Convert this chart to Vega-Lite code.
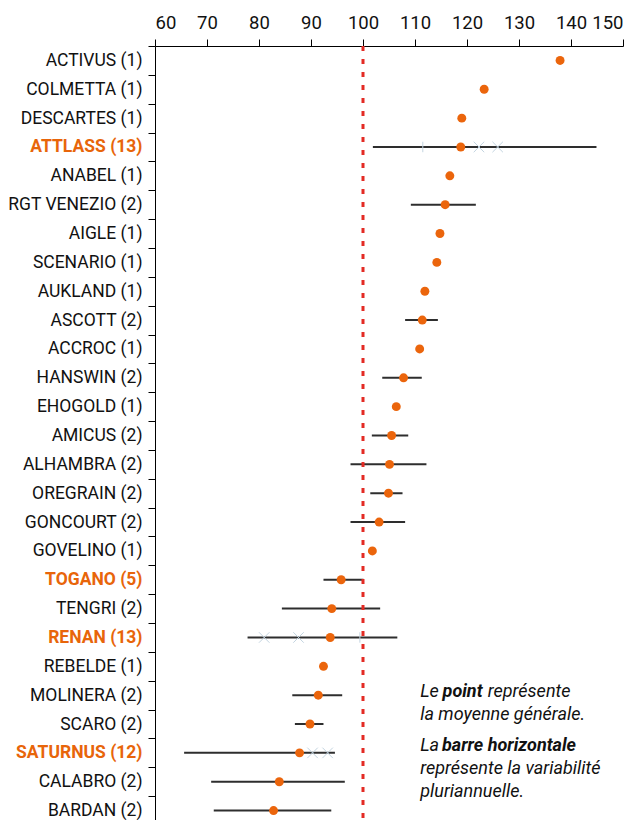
{
  "$schema": "https://vega.github.io/schema/vega-lite/v6.json",
  "width": 468,
  "height": 779,
  "autosize": {"type": "none"},
  "padding": {"left": 155, "top": 46, "right": 15, "bottom": 0},
  "background": "white",
  "config": {"view": {"stroke": null}, "font": "Roboto"},
  "datasets": {
    "varieties": [
      {"variety": "ACTIVUS (1)", "mean": 137.9, "lo": null, "hi": null},
      {"variety": "COLMETTA (1)", "mean": 123.3, "lo": null, "hi": null},
      {"variety": "DESCARTES (1)", "mean": 119.0, "lo": null, "hi": null},
      {"variety": "ATTLASS (13)", "mean": 118.8, "lo": 101.9, "hi": 144.9},
      {"variety": "ANABEL (1)", "mean": 116.7, "lo": null, "hi": null},
      {"variety": "RGT VENEZIO (2)", "mean": 115.8, "lo": 109.2, "hi": 121.7},
      {"variety": "AIGLE (1)", "mean": 114.8, "lo": null, "hi": null},
      {"variety": "SCENARIO (1)", "mean": 114.2, "lo": null, "hi": null},
      {"variety": "AUKLAND (1)", "mean": 111.9, "lo": null, "hi": null},
      {"variety": "ASCOTT (2)", "mean": 111.4, "lo": 108.1, "hi": 114.4},
      {"variety": "ACCROC (1)", "mean": 110.9, "lo": null, "hi": null},
      {"variety": "HANSWIN (2)", "mean": 107.8, "lo": 103.7, "hi": 111.3},
      {"variety": "EHOGOLD (1)", "mean": 106.4, "lo": null, "hi": null},
      {"variety": "AMICUS (2)", "mean": 105.5, "lo": 101.7, "hi": 108.7},
      {"variety": "ALHAMBRA (2)", "mean": 105.1, "lo": 97.6, "hi": 112.2},
      {"variety": "OREGRAIN (2)", "mean": 104.9, "lo": 101.4, "hi": 107.6},
      {"variety": "GONCOURT (2)", "mean": 103.1, "lo": 97.6, "hi": 108.1},
      {"variety": "GOVELINO (1)", "mean": 101.8, "lo": null, "hi": null},
      {"variety": "TOGANO (5)", "mean": 95.8, "lo": 92.4, "hi": 100.1},
      {"variety": "TENGRI (2)", "mean": 94.0, "lo": 84.4, "hi": 103.3},
      {"variety": "RENAN (13)", "mean": 93.7, "lo": 77.8, "hi": 106.6},
      {"variety": "REBELDE (1)", "mean": 92.4, "lo": null, "hi": null},
      {"variety": "MOLINERA (2)", "mean": 91.4, "lo": 86.4, "hi": 96.0},
      {"variety": "SCARO (2)", "mean": 89.8, "lo": 86.9, "hi": 92.4},
      {"variety": "SATURNUS (12)", "mean": 87.8, "lo": 65.6, "hi": 94.6},
      {"variety": "CALABRO (2)", "mean": 83.9, "lo": 70.8, "hi": 96.5},
      {"variety": "BARDAN (2)", "mean": 82.8, "lo": 71.3, "hi": 93.9}
    ],
    "markers": [
      {"variety": "ATTLASS (13)", "value": 111.5, "kind": "plus"},
      {"variety": "ATTLASS (13)", "value": 122.3, "kind": "x"},
      {"variety": "ATTLASS (13)", "value": 125.9, "kind": "x"},
      {"variety": "RENAN (13)", "value": 81.0, "kind": "x"},
      {"variety": "RENAN (13)", "value": 87.6, "kind": "x"},
      {"variety": "RENAN (13)", "value": 99.4, "kind": "plus"},
      {"variety": "SATURNUS (12)", "value": 90.3, "kind": "x"},
      {"variety": "SATURNUS (12)", "value": 93.2, "kind": "x"}
    ],
    "notesRegular": [
      {"line": 1, "x": 111.0, "text": "Le"},
      {"line": 1, "x": 124.0, "text": "représente"},
      {"line": 2, "x": 111.0, "text": "la moyenne générale."},
      {"line": 3.35, "x": 111.0, "text": "La"},
      {"line": 4.35, "x": 111.0, "text": "représente la variabilité"},
      {"line": 5.35, "x": 111.0, "text": "pluriannuelle."}
    ],
    "notesBold": [
      {"line": 1, "x": 115.3, "text": "point"},
      {"line": 3.35, "x": 115.2, "text": "barre horizontale"}
    ]
  },
  "resolve": {"scale": {"y": "independent"}},
  "layer": [
    {
      "layer": [
        {
          "data": {"name": "varieties"},
          "mark": {"type": "rule", "color": "#2e2e2e", "strokeWidth": 2},
          "encoding": {
            "y": {
              "field": "variety", "type": "nominal",
              "scale": {"domain": ["ACTIVUS (1)", "COLMETTA (1)", "DESCARTES (1)", "ATTLASS (13)", "ANABEL (1)", "RGT VENEZIO (2)", "AIGLE (1)", "SCENARIO (1)", "AUKLAND (1)", "ASCOTT (2)", "ACCROC (1)", "HANSWIN (2)", "EHOGOLD (1)", "AMICUS (2)", "ALHAMBRA (2)", "OREGRAIN (2)", "GONCOURT (2)", "GOVELINO (1)", "TOGANO (5)", "TENGRI (2)", "RENAN (13)", "REBELDE (1)", "MOLINERA (2)", "SCARO (2)", "SATURNUS (12)", "CALABRO (2)", "BARDAN (2)"], "paddingInner": 0, "paddingOuter": 0},
              "axis": {
                "title": null,
                "orient": "left",
                "tickBand": "extent",
                "domainColor": "#000000",
                "domainWidth": 1,
                "tickColor": "#000000",
                "tickSize": 7,
                "labelFontSize": 17.5,
                "labelPadding": 6,
                "labelFont": "Roboto",
                "labelColor": {"condition": {"test": "datum.value == 'ATTLASS (13)' || datum.value == 'TOGANO (5)' || datum.value == 'RENAN (13)' || datum.value == 'SATURNUS (12)'", "value": "#E8650A"}, "value": "#111111"},
                "labelFontWeight": {"condition": {"test": "datum.value == 'ATTLASS (13)' || datum.value == 'TOGANO (5)' || datum.value == 'RENAN (13)' || datum.value == 'SATURNUS (12)'", "value": "bold"}, "value": "normal"}
              }
            },
            "x": {
              "field": "lo", "type": "quantitative",
              "scale": {"domain": [60, 150], "nice": false, "zero": false},
              "axis": {
                "title": null,
                "orient": "top",
                "values": [60, 70, 80, 90, 100, 110, 120, 130, 140, 150],
                "grid": false,
                "domainColor": "#000000",
                "tickColor": "#000000",
                "tickSize": 7,
                "labelFontSize": 18.5,
                "labelPadding": 7,
                "labelColor": "#111111",
                "labelFont": "Roboto"
              }
            },
            "x2": {"field": "hi"}
          }
        },
        {
          "data": {"name": "markers"},
          "mark": {"type": "point", "filled": false, "strokeWidth": 1, "size": 110, "opacity": 1},
          "encoding": {
            "y": {"field": "variety", "type": "nominal"},
            "x": {"field": "value", "type": "quantitative"},
            "shape": {"field": "kind", "type": "nominal", "scale": {"domain": ["x", "plus"], "range": ["M-1,-1L1,1M-1,1L1,-1", "M0,-1L0,1"]}, "legend": null},
            "color": {"value": "#c3d4e0"}
          }
        },
        {
          "data": {"values": [{}]},
          "mark": {"type": "rule", "color": "#e32b24", "strokeWidth": 3, "strokeDash": [5, 8]},
          "encoding": {"x": {"datum": 100}}
        },
        {
          "data": {"name": "varieties"},
          "mark": {"type": "circle", "size": 80, "opacity": 1, "color": "#EB650C"},
          "encoding": {
            "y": {"field": "variety", "type": "nominal"},
            "x": {"field": "mean", "type": "quantitative"}
          }
        }
      ]
    },
    {
      "layer": [
        {
          "data": {"name": "notesRegular"},
          "mark": {"type": "text", "align": "left", "baseline": "middle", "font": "Roboto", "fontSize": 18, "fontStyle": "italic", "color": "#111111"},
          "encoding": {
            "x": {"field": "x", "type": "quantitative"},
            "y": {"field": "line", "type": "quantitative", "scale": {"domain": [-27.087, 6.783], "reverse": true, "nice": false, "zero": false}, "axis": null},
            "text": {"field": "text"}
          }
        },
        {
          "data": {"name": "notesBold"},
          "mark": {"type": "text", "align": "left", "baseline": "middle", "font": "Roboto", "fontSize": 18, "fontStyle": "italic", "fontWeight": "bold", "color": "#111111"},
          "encoding": {
            "x": {"field": "x", "type": "quantitative"},
            "y": {"field": "line", "type": "quantitative"},
            "text": {"field": "text"}
          }
        }
      ]
    }
  ]
}
